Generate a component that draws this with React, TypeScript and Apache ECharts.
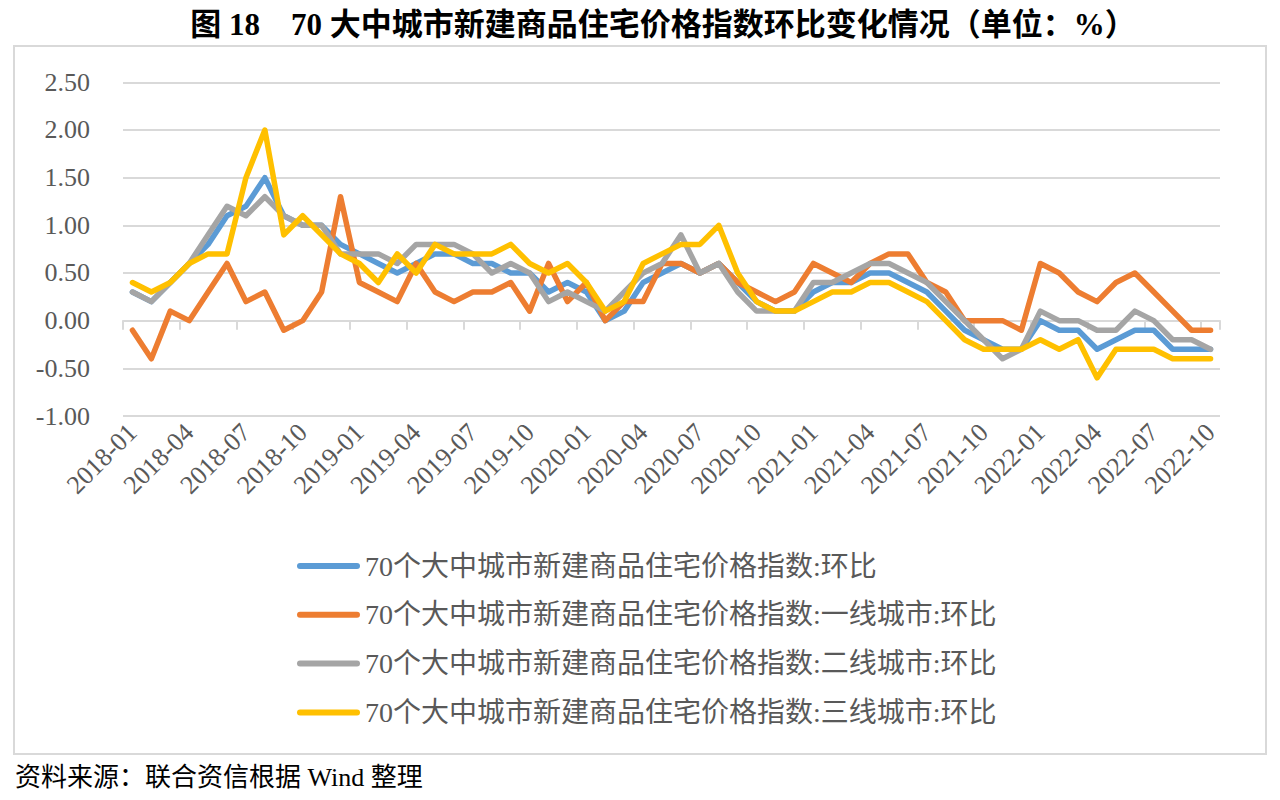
import React, { useEffect, useRef } from "react";
import * as echarts from "echarts";

// Monthly periods, 2018-01 through 2022-10
const months: string[] = [
  "2018-01", "2018-02", "2018-03", "2018-04", "2018-05", "2018-06", "2018-07", "2018-08", "2018-09", "2018-10", "2018-11", "2018-12",
  "2019-01", "2019-02", "2019-03", "2019-04", "2019-05", "2019-06", "2019-07", "2019-08", "2019-09", "2019-10", "2019-11", "2019-12",
  "2020-01", "2020-02", "2020-03", "2020-04", "2020-05", "2020-06", "2020-07", "2020-08", "2020-09", "2020-10", "2020-11", "2020-12",
  "2021-01", "2021-02", "2021-03", "2021-04", "2021-05", "2021-06", "2021-07", "2021-08", "2021-09", "2021-10", "2021-11", "2021-12",
  "2022-01", "2022-02", "2022-03", "2022-04", "2022-05", "2022-06", "2022-07", "2022-08", "2022-09", "2022-10",
];

const seriesNames: string[] = [
  "70个大中城市新建商品住宅价格指数:环比",
  "70个大中城市新建商品住宅价格指数:一线城市:环比",
  "70个大中城市新建商品住宅价格指数:二线城市:环比",
  "70个大中城市新建商品住宅价格指数:三线城市:环比",
];

// Month-on-month change, %
const allCities: number[] = [
  0.3, 0.2, 0.4, 0.6, 0.8, 1.1, 1.2, 1.5, 1.1, 1.0, 1.0, 0.8,
  0.7, 0.6, 0.5, 0.6, 0.7, 0.7, 0.6, 0.6, 0.5, 0.5, 0.3, 0.4,
  0.3, 0.0, 0.1, 0.4, 0.5, 0.6, 0.5, 0.6, 0.4, 0.2, 0.1, 0.1,
  0.3, 0.4, 0.4, 0.5, 0.5, 0.4, 0.3, 0.1, -0.1, -0.2, -0.3, -0.3,
  0.0, -0.1, -0.1, -0.3, -0.2, -0.1, -0.1, -0.3, -0.3, -0.3,
];

const tier1: number[] = [
  -0.1, -0.4, 0.1, 0.0, 0.3, 0.6, 0.2, 0.3, -0.1, 0.0, 0.3, 1.3,
  0.4, 0.3, 0.2, 0.6, 0.3, 0.2, 0.3, 0.3, 0.4, 0.1, 0.6, 0.2,
  0.4, 0.0, 0.2, 0.2, 0.6, 0.6, 0.5, 0.6, 0.4, 0.3, 0.2, 0.3,
  0.6, 0.5, 0.4, 0.6, 0.7, 0.7, 0.4, 0.3, 0.0, 0.0, 0.0, -0.1,
  0.6, 0.5, 0.3, 0.2, 0.4, 0.5, 0.3, 0.1, -0.1, -0.1,
];

const tier2: number[] = [
  0.3, 0.2, 0.4, 0.6, 0.9, 1.2, 1.1, 1.3, 1.1, 1.0, 1.0, 0.7,
  0.7, 0.7, 0.6, 0.8, 0.8, 0.8, 0.7, 0.5, 0.6, 0.5, 0.2, 0.3,
  0.2, 0.1, 0.3, 0.5, 0.6, 0.9, 0.5, 0.6, 0.3, 0.1, 0.1, 0.1,
  0.4, 0.4, 0.5, 0.6, 0.6, 0.5, 0.4, 0.2, 0.0, -0.2, -0.4, -0.3,
  0.1, 0.0, 0.0, -0.1, -0.1, 0.1, 0.0, -0.2, -0.2, -0.3,
];

const tier3: number[] = [
  0.4, 0.3, 0.4, 0.6, 0.7, 0.7, 1.5, 2.0, 0.9, 1.1, 0.9, 0.7,
  0.6, 0.4, 0.7, 0.5, 0.8, 0.7, 0.7, 0.7, 0.8, 0.6, 0.5, 0.6,
  0.4, 0.1, 0.2, 0.6, 0.7, 0.8, 0.8, 1.0, 0.5, 0.2, 0.1, 0.1,
  0.2, 0.3, 0.3, 0.4, 0.4, 0.3, 0.2, 0.0, -0.2, -0.3, -0.3, -0.3,
  -0.2, -0.3, -0.2, -0.6, -0.3, -0.3, -0.3, -0.4, -0.4, -0.4,
];

const lineColors: string[] = ["#5B9BD5", "#ED7D31", "#A5A5A5", "#FFC000"];

const titleText = "图 18　70 大中城市新建商品住宅价格指数环比变化情况（单位：%）";
const sourceText = "资料来源：联合资信根据 Wind 整理";

const SERIF = '"Liberation Serif", "Times New Roman", "Noto Sans CJK SC", serif';
const LEGEND_FONT = '"Liberation Serif", "Noto Sans CJK SC", serif';

// Capsule-shaped legend marker (rounded line ends)
const CAPSULE_ICON = "path://M3,0L60,0A3,3,0,0,1,60,6L3,6A3,3,0,0,1,3,0Z";

export default function App() {
  const ref = useRef<HTMLDivElement>(null);

  useEffect(() => {
    if (!ref.current) return;
    const chart = echarts.init(ref.current, null, { renderer: "svg" });
    const data = [allCities, tier1, tier2, tier3];

    chart.setOption({
      animation: false,
      backgroundColor: "#ffffff",
      color: lineColors,
      graphic: [
        {
          type: "rect",
          shape: { x: 14, y: 46, width: 1252, height: 708 },
          style: { fill: "none", stroke: "#d9d9d9", lineWidth: 2 },
          silent: true,
        },
        {
          type: "text",
          x: 663,
          y: 24,
          style: {
            text: titleText,
            textAlign: "center",
            textVerticalAlign: "middle",
            fontSize: 31,
            fontWeight: "bold",
            fontFamily: SERIF,
            fill: "#000000",
          },
        },
        {
          type: "text",
          x: 15,
          y: 777,
          style: {
            text: sourceText,
            textAlign: "left",
            textVerticalAlign: "middle",
            fontSize: 26,
            fontFamily: SERIF,
            fill: "#000000",
          },
        },
      ],
      grid: { left: 123, right: 60, top: 82.3, bottom: 384, containLabel: false },
      legend: {
        orient: "vertical",
        left: 297,
        top: 551,
        padding: 0,
        icon: CAPSULE_ICON,
        itemWidth: 63,
        itemHeight: 6,
        itemGap: 18.8,
        textStyle: { fontSize: 28, lineHeight: 30, color: "#595959", fontFamily: LEGEND_FONT },
        data: seriesNames,
      },
      xAxis: {
        type: "category",
        data: months,
        boundaryGap: true,
        axisLine: { show: true, lineStyle: { color: "#d9d9d9", width: 2 } },
        axisTick: { show: true, interval: 2, length: 9, lineStyle: { color: "#d9d9d9", width: 2 } },
        axisLabel: {
          interval: 2,
          rotate: 45,
          margin: 12,
          fontSize: 26,
          color: "#595959",
          fontFamily: SERIF,
        },
      },
      yAxis: {
        type: "value",
        min: -1,
        max: 2.5,
        interval: 0.5,
        axisLine: { show: false },
        axisTick: { show: false },
        splitLine: { lineStyle: { color: "#d9d9d9", width: 2 } },
        axisLabel: {
          margin: 33,
          fontSize: 26,
          color: "#595959",
          fontFamily: SERIF,
          formatter: (v: number) => v.toFixed(2),
        },
      },
      series: seriesNames.map((name, i) => ({
        name,
        type: "line",
        data: data[i],
        symbol: "none",
        showSymbol: false,
        lineStyle: { width: 5.5, color: lineColors[i], cap: "round", join: "round" },
        itemStyle: { color: lineColors[i] },
      })),
    });

    return () => chart.dispose();
  }, []);

  return (
    <div
      ref={ref}
      style={{ position: "fixed", left: 0, top: 0, width: 1280, height: 800, background: "#fff" }}
    />
  );
}
